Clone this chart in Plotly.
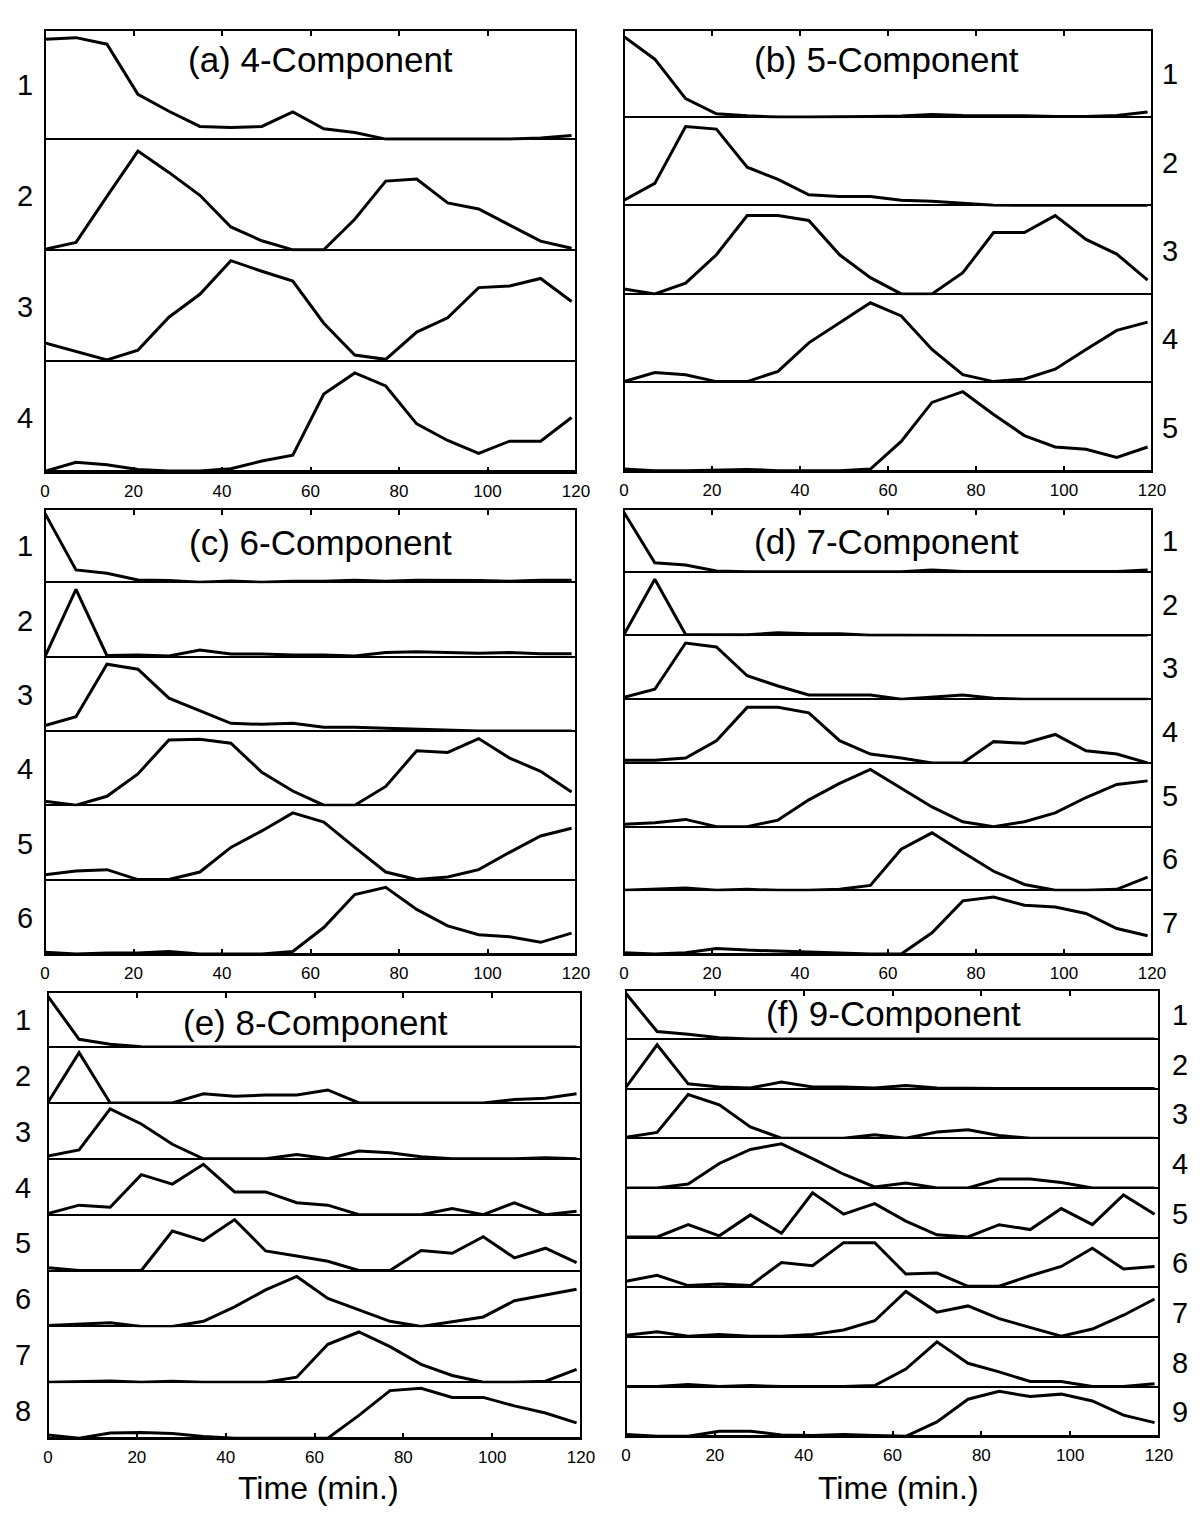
import plotly.graph_objects as go

W, H = 1200, 1517
FONT = "Liberation Sans, Arial, sans-serif"

time_min = [0, 7, 14, 21, 28, 35, 42, 49, 56, 63, 70, 77, 84, 91, 98, 105, 112, 119]
tick_vals = [0, 20, 40, 60, 80, 100, 120]

# (a) 4-Component
a1 = [0.915, 0.93, 0.87, 0.41, 0.255, 0.116, 0.107, 0.116, 0.25, 0.095, 0.06, 0, 0, 0, 0, 0, 0.01, 0.034]
a2 = [0.006, 0.068, 0.49, 0.905, 0.71, 0.50, 0.21, 0.083, 0, 0, 0.28, 0.63, 0.65, 0.43, 0.375, 0.23, 0.08, 0.015]
a3 = [0.163, 0.087, 0.006, 0.096, 0.398, 0.608, 0.916, 0.819, 0.729, 0.343, 0.051, 0.012, 0.262, 0.392, 0.669, 0.684, 0.753, 0.542]
a4 = [0, 0.083, 0.06, 0.018, 0.003, 0.003, 0.024, 0.095, 0.149, 0.708, 0.902, 0.783, 0.435, 0.283, 0.164, 0.277, 0.277, 0.494]

# (b) 5-Component
b1 = [0.923, 0.665, 0.212, 0.038, 0.015, 0, 0, 0, 0.008, 0.012, 0.031, 0.019, 0.019, 0.015, 0.008, 0.008, 0.019, 0.058]
b2 = [0.06, 0.254, 0.907, 0.877, 0.44, 0.3, 0.123, 0.104, 0.104, 0.06, 0.049, 0.03, 0.004, 0, 0, 0, 0, 0]
b3 = [0.056, 0, 0.124, 0.449, 0.899, 0.899, 0.843, 0.449, 0.187, 0, 0, 0.243, 0.704, 0.704, 0.899, 0.625, 0.457, 0.157]
b4 = [0.008, 0.113, 0.087, 0.008, 0.008, 0.125, 0.453, 0.687, 0.913, 0.762, 0.377, 0.087, 0.008, 0.038, 0.151, 0.377, 0.596, 0.691]
b5 = [0.019, 0, 0, 0.007, 0.015, 0, 0, 0, 0.019, 0.336, 0.784, 0.907, 0.646, 0.403, 0.272, 0.246, 0.153, 0.272]

# (c) 6-Component
c1 = [0.94, 0.168, 0.123, 0.032, 0.023, 0, 0.018, 0, 0.014, 0.014, 0.027, 0.014, 0.027, 0.027, 0.023, 0.014, 0.027, 0.027]
c2 = [0, 0.919, 0.013, 0.022, 0.009, 0.09, 0.036, 0.036, 0.022, 0.022, 0.009, 0.054, 0.067, 0.058, 0.045, 0.054, 0.04, 0.04]
c3 = [0.072, 0.193, 0.91, 0.843, 0.448, 0.274, 0.103, 0.09, 0.103, 0.049, 0.049, 0.036, 0.022, 0.004, 0, 0, 0, 0]
c4 = [0.054, 0, 0.122, 0.428, 0.892, 0.901, 0.847, 0.45, 0.194, 0, 0, 0.257, 0.743, 0.721, 0.91, 0.644, 0.464, 0.18]
c5 = [0.067, 0.117, 0.135, 0, 0, 0.103, 0.439, 0.664, 0.91, 0.785, 0.439, 0.103, 0, 0.036, 0.135, 0.372, 0.596, 0.7]
c6 = [0.023, 0, 0.014, 0.014, 0.032, 0, 0, 0, 0.032, 0.36, 0.811, 0.91, 0.608, 0.383, 0.261, 0.234, 0.158, 0.284]

# (d) 7-Component
d1 = [0.945, 0.142, 0.109, 0.011, 0, 0, 0, 0, 0, 0, 0.027, 0.005, 0.005, 0.005, 0.005, 0.005, 0.005, 0.027]
d2 = [0.016, 0.895, 0.016, 0.011, 0.011, 0.042, 0.026, 0.026, 0.005, 0.005, 0, 0, 0, 0, 0, 0, 0, 0]
d3 = [0.032, 0.158, 0.895, 0.832, 0.374, 0.211, 0.068, 0.068, 0.068, 0, 0.032, 0.068, 0.016, 0, 0, 0, 0, 0]
d4 = [0.042, 0.042, 0.078, 0.354, 0.885, 0.885, 0.797, 0.354, 0.141, 0.078, 0, 0, 0.339, 0.313, 0.453, 0.193, 0.141, 0]
d5 = [0.036, 0.063, 0.115, 0, 0, 0.104, 0.427, 0.688, 0.911, 0.609, 0.313, 0.078, 0, 0.078, 0.219, 0.464, 0.672, 0.729]
d6 = [0, 0.016, 0.037, 0, 0.016, 0, 0, 0.016, 0.079, 0.654, 0.916, 0.607, 0.304, 0.094, 0, 0, 0.016, 0.209]
d7 = [0.021, 0, 0.021, 0.09, 0.063, 0.048, 0.032, 0.021, 0, 0, 0.339, 0.847, 0.91, 0.778, 0.751, 0.646, 0.407, 0.291]

# (e) 8-Component
e1 = [0.92, 0.141, 0.049, 0.006, 0, 0, 0, 0, 0, 0, 0, 0, 0, 0, 0, 0, 0, 0]
e2 = [0.012, 0.914, 0, 0, 0, 0.167, 0.123, 0.142, 0.142, 0.235, 0, 0, 0, 0, 0, 0.062, 0.086, 0.167]
e3 = [0.049, 0.16, 0.908, 0.632, 0.264, 0, 0, 0, 0.08, 0, 0.141, 0.11, 0.037, 0, 0, 0, 0.018, 0]
e4 = [0.019, 0.173, 0.136, 0.728, 0.556, 0.914, 0.414, 0.414, 0.216, 0.173, 0, 0, 0, 0.111, 0, 0.216, 0, 0.062]
e5 = [0.05, 0, 0, 0, 0.719, 0.544, 0.925, 0.356, 0.263, 0.169, 0, 0, 0.363, 0.313, 0.613, 0.231, 0.406, 0.144]
e6 = [0.018, 0.049, 0.067, 0, 0, 0.092, 0.356, 0.663, 0.908, 0.509, 0.307, 0.092, 0, 0.092, 0.172, 0.466, 0.571, 0.675]
e7 = [0, 0.012, 0.025, 0, 0.019, 0, 0, 0, 0.093, 0.691, 0.914, 0.648, 0.327, 0.123, 0, 0, 0.019, 0.235]
e8 = [0.056, 0, 0.093, 0.105, 0.086, 0.031, 0, 0, 0, 0, 0.414, 0.864, 0.907, 0.741, 0.741, 0.586, 0.457, 0.278]

# (f) 9-Component
f1 = [0.928, 0.152, 0.094, 0.022, 0, 0, 0, 0, 0, 0, 0, 0, 0, 0, 0, 0, 0, 0]
f2 = [0.028, 0.896, 0.097, 0.035, 0.014, 0.132, 0.035, 0.035, 0.014, 0.063, 0.014, 0, 0, 0, 0, 0, 0, 0]
f3 = [0.021, 0.119, 0.895, 0.685, 0.231, 0, 0, 0, 0.07, 0, 0.126, 0.175, 0.056, 0, 0, 0, 0, 0]
f4 = [0, 0, 0.08, 0.5, 0.787, 0.9, 0.6, 0.28, 0.02, 0.1, 0, 0, 0.18, 0.18, 0.113, 0, 0, 0]
f5 = [0.014, 0.014, 0.264, 0.036, 0.464, 0.086, 0.914, 0.479, 0.693, 0.336, 0.057, 0.014, 0.264, 0.164, 0.593, 0.264, 0.871, 0.479]
f6 = [0.122, 0.243, 0.034, 0.068, 0.034, 0.507, 0.439, 0.912, 0.912, 0.27, 0.291, 0.02, 0.02, 0.236, 0.426, 0.797, 0.372, 0.426]
f7 = [0.035, 0.106, 0.014, 0.049, 0.014, 0.014, 0.049, 0.141, 0.331, 0.93, 0.507, 0.634, 0.373, 0.197, 0.014, 0.162, 0.444, 0.775]
f8 = [0, 0, 0.042, 0, 0.021, 0, 0, 0, 0.021, 0.357, 0.916, 0.476, 0.301, 0.105, 0.105, 0, 0, 0.056]
f9 = [0.035, 0, 0, 0.104, 0.104, 0.028, 0.014, 0.035, 0.014, 0, 0.292, 0.757, 0.917, 0.813, 0.861, 0.722, 0.431, 0.278]

# panel geometry in page pixels: (left, right, top, bottom)
panels = [
    {"title": "(a) 4-Component", "comps": [a1, a2, a3, a4], "box": (45, 576, 30, 473),
     "title_pos": (320, 59), "label_x": 25, "xlabel": None},
    {"title": "(b) 5-Component", "comps": [b1, b2, b3, b4, b5], "box": (624, 1152, 30, 472),
     "title_pos": (886, 60), "label_x": 1170, "xlabel": None},
    {"title": "(c) 6-Component", "comps": [c1, c2, c3, c4, c5, c6], "box": (45, 576, 509, 955),
     "title_pos": (320, 542), "label_x": 25, "xlabel": None},
    {"title": "(d) 7-Component", "comps": [d1, d2, d3, d4, d5, d6, d7], "box": (624, 1152, 509, 955),
     "title_pos": (886, 541), "label_x": 1170, "xlabel": None},
    {"title": "(e) 8-Component", "comps": [e1, e2, e3, e4, e5, e6, e7, e8], "box": (48, 581, 992, 1439),
     "title_pos": (315, 1022), "label_x": 23, "xlabel": 318},
    {"title": "(f) 9-Component", "comps": [f1, f2, f3, f4, f5, f6, f7, f8, f9], "box": (626, 1159, 990, 1437),
     "title_pos": (893, 1013), "label_x": 1180, "xlabel": 898},
]


def px_x(v):
    return v / W


def px_y(v):
    return 1 - v / H


def axname(prefix, k):
    return prefix if k == 1 else f"{prefix}{k}"


fig = go.Figure()
layout = {}
shapes = []
annotations = []
yn = 0

for p, panel in enumerate(panels):
    left, right, top, bottom = panel["box"]
    comps = panel["comps"]
    n = len(comps)
    band = (bottom - top) / n
    xb = 2 * p + 1
    xt = 2 * p + 2
    first_y = yn + 1
    last_y = yn + n
    xdom = [px_x(left), px_x(right)]

    axis_common = dict(domain=xdom, range=[0, 120], tickvals=tick_vals, ticks="inside",
                       ticklen=6, tickwidth=1.5, tickcolor="black", showgrid=False,
                       zeroline=False, showline=False, fixedrange=True)
    layout[f"xaxis{xb}" if xb > 1 else "xaxis"] = dict(
        axis_common, anchor=axname("y", last_y), side="bottom", showticklabels=True,
        ticklabelstandoff=6, tickfont=dict(family=FONT, size=17, color="black"))
    layout[f"xaxis{xt}"] = dict(
        axis_common, anchor=axname("y", first_y), side="top", showticklabels=False,
        matches=axname("x", xb))

    for i, vals in enumerate(comps):
        yn += 1
        y_top = top + i * band
        y_bot = top + (i + 1) * band
        layout[f"yaxis{yn}" if yn > 1 else "yaxis"] = dict(
            domain=[px_y(y_bot), px_y(y_top)], range=[-0.015, 1.0], anchor=axname("x", xb),
            showticklabels=False, ticks="", showgrid=False, showline=False,
            zeroline=True, zerolinecolor="black", zerolinewidth=1.6, fixedrange=True)
        fig.add_trace(go.Scatter(
            x=time_min, y=vals, mode="lines", line=dict(color="black", width=3),
            xaxis=axname("x", xt if i == 0 else xb), yaxis=axname("y", yn),
            hoverinfo="skip", showlegend=False))
        annotations.append(dict(
            text=str(i + 1), x=px_x(panel["label_x"]), y=px_y((y_top + y_bot) / 2),
            xref="paper", yref="paper", xanchor="center", yanchor="middle", showarrow=False,
            font=dict(family=FONT, size=29, color="black")))

    shapes.append(dict(type="rect", xref="paper", yref="paper",
                       x0=px_x(left), x1=px_x(right), y0=px_y(bottom), y1=px_y(top),
                       line=dict(color="black", width=2), fillcolor="rgba(0,0,0,0)"))

    tx, ty = panel["title_pos"]
    annotations.append(dict(
        text=panel["title"], x=px_x(tx), y=px_y(ty), xref="paper", yref="paper",
        xanchor="center", yanchor="middle", showarrow=False,
        font=dict(family=FONT, size=35, color="black")))
    if panel["xlabel"] is not None:
        annotations.append(dict(
            text="Time (min.)", x=px_x(panel["xlabel"]), y=px_y(1488), xref="paper", yref="paper",
            xanchor="center", yanchor="middle", showarrow=False,
            font=dict(family=FONT, size=32, color="black")))

fig.update_layout(
    template="none",
    width=W, height=H,
    margin=dict(l=0, r=0, t=0, b=0),
    paper_bgcolor="white", plot_bgcolor="white",
    showlegend=False,
    shapes=shapes,
    annotations=annotations,
    **layout,
)

fig.write_html("out.html", config={"displayModeBar": False},
               post_script="document.body.style.margin='0';")
